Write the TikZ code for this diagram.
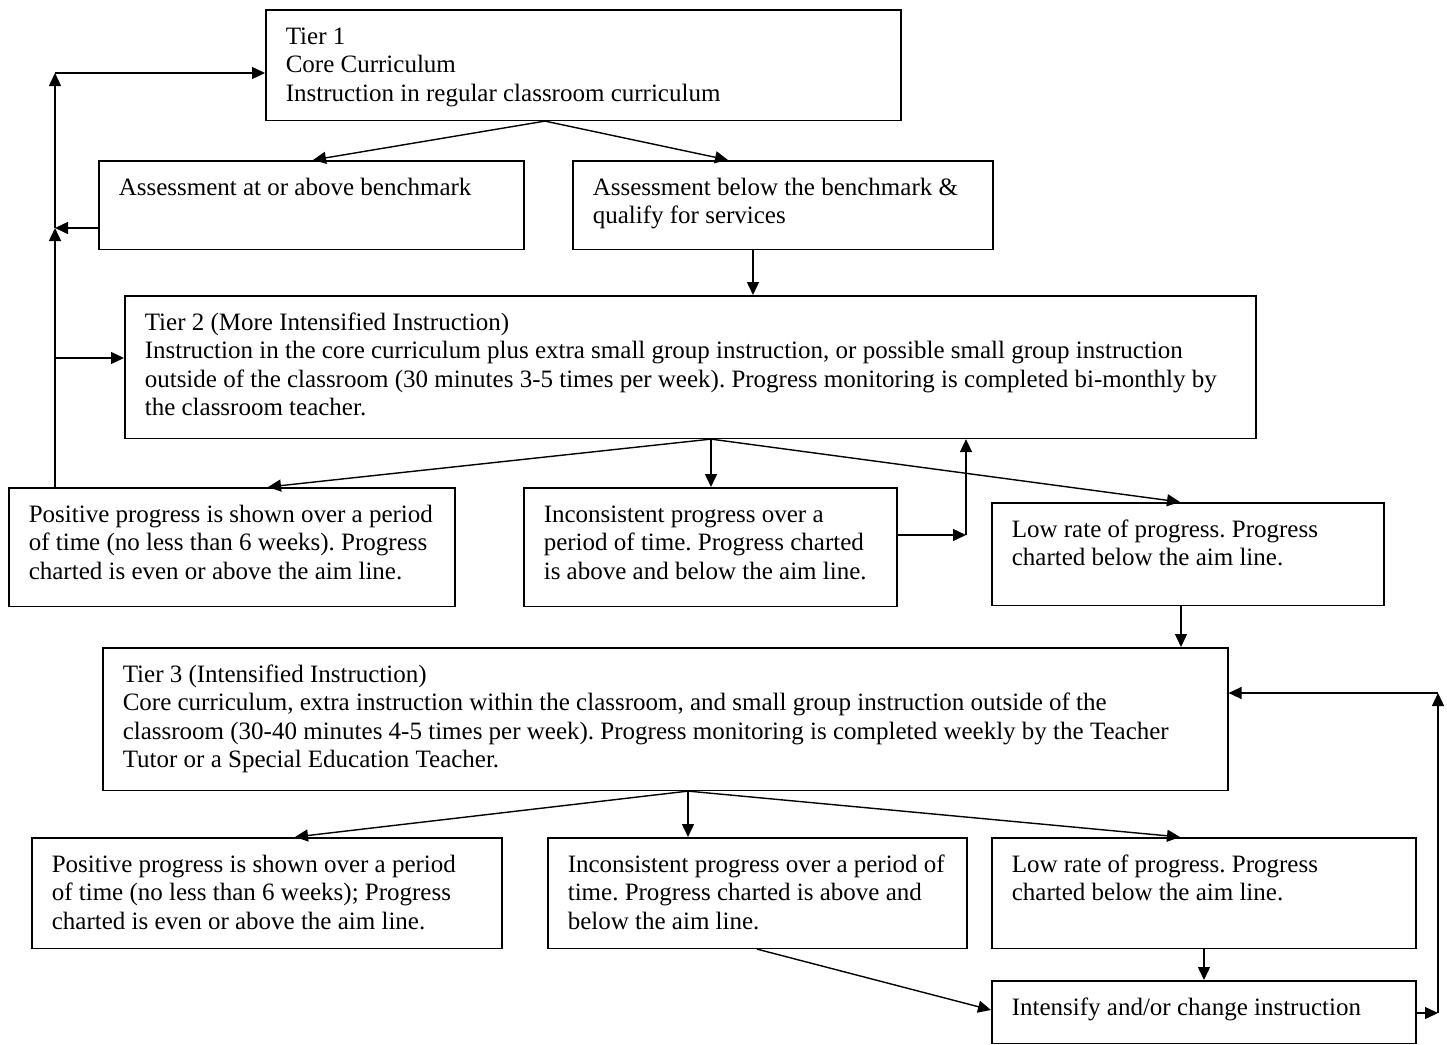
\documentclass[tikz,border=0pt]{standalone}
\usepackage{fontspec}
\setmainfont{Liberation Serif}
\usepackage{tikz}
\usetikzlibrary{arrows.meta, positioning, calc}
\frenchspacing

% lines of a box, never broken, flush left in a fixed width
\newcommand{\boxlines}[2]{\makebox[#1][l]{\begin{tabular}[t]{@{}l@{}}#2\end{tabular}}}

\tikzset{
    tierbox/.style={draw, line width=0.8pt, anchor=north west, inner xsep=10pt, inner ysep=0pt,
        text height=17.25pt, font=\fontsize{12.5pt}{14.25pt}\selectfont},
    flow/.style={-{Triangle[length=6.5pt, width=6pt]}, line width=0.7pt}
}

\begin{document}
\begin{tikzpicture}[x=0.5pt, y=-0.5pt]
    \useasboundingbox (0,0) rectangle (1447,1045);

    % ---------------- TIER 1 ----------------
    \node[tierbox, text depth=38pt] (tier1) at (265,9)
        {\boxlines{297.5pt}{Tier 1\\Core Curriculum\\Instruction in regular classroom curriculum}};
    \node[tierbox, text depth=27pt] (above1) at (98,160)
        {\boxlines{192.5pt}{Assessment at or above benchmark}};
    \node[tierbox, text depth=27pt] (below1) at (572,160)
        {\boxlines{190pt}{Assessment below the benchmark \&\\qualify for services}};

    % ---------------- TIER 2 ----------------
    \node[tierbox, text depth=54pt] (tier2) at (124,295)
        {\boxlines{545.5pt}{Tier 2 (More Intensified Instruction)\\
        Instruction in the core curriculum plus extra small group instruction, or possible small group instruction\\
        outside of the classroom (30 minutes 3-5 times per week). Progress monitoring is completed bi-monthly by\\
        the classroom teacher.}};
    \node[tierbox, text depth=42pt] (pos2) at (8,487)
        {\boxlines{203pt}{Positive progress is shown over a period\\of time (no less than 6 weeks). Progress\\charted is even or above the aim line.}};
    \node[tierbox, text depth=42pt] (inc2) at (523,487)
        {\boxlines{166.5pt}{Inconsistent progress over a\\period of time. Progress charted\\is above and below the aim line.}};
    \node[tierbox, text depth=34pt] (low2) at (991,502)
        {\boxlines{176pt}{Low rate of progress. Progress\\charted below the aim line.}};

    % ---------------- TIER 3 ----------------
    \node[tierbox, text depth=54pt] (tier3) at (102,647)
        {\boxlines{542.5pt}{Tier 3 (Intensified Instruction)\\
        Core curriculum, extra instruction within the classroom, and small group instruction outside of the\\
        classroom (30-40 minutes 4-5 times per week). Progress monitoring is completed weekly by the Teacher\\
        Tutor or a Special Education Teacher.}};
    \node[tierbox, text depth=38pt] (pos3) at (31,837)
        {\boxlines{215pt}{Positive progress is shown over a period\\of time (no less than 6 weeks); Progress\\charted is even or above the aim line.}};
    \node[tierbox, text depth=38pt] (inc3) at (547,837)
        {\boxlines{189.5pt}{Inconsistent progress over a period of\\time. Progress charted is above and\\below the aim line.}};
    \node[tierbox, text depth=38pt] (low3) at (991,837)
        {\boxlines{192pt}{Low rate of progress. Progress\\charted below the aim line.}};
    \node[tierbox, text depth=14pt] (intens) at (991,980)
        {\boxlines{192pt}{Intensify and/or change instruction}};

    % ---------------- ARROWS ----------------
    \draw[flow] (tier1.south -| 545,0) -- (above1.north -| 313,0);
    \draw[flow] (tier1.south -| 545,0) -- (below1.north -| 728,0);
    \draw[flow] (below1.south -| 753,0) -- (tier2.north -| 753,0);

    % left loop back to tier 1 / tier 2
    \coordinate (leftjoin) at (55,228);
    \coordinate (lefttop) at (55,73);
    \coordinate (leftmid) at (55,358);
    \draw[flow] (pos2.north -| leftjoin) -- (leftjoin);
    \draw[flow] (above1.west |- leftjoin) -- (leftjoin);
    \draw[flow] (leftjoin) -- (lefttop);
    \draw[flow] (lefttop) -- (lefttop -| tier1.west);
    \draw[flow] (leftmid) -- (leftmid -| tier2.west);

    \draw[flow] (tier2.south -| 711,0) -- (pos2.north -| 268,0);
    \draw[flow] (tier2.south -| 711,0) -- (inc2.north -| 711,0);
    \draw[flow] (tier2.south -| 711,0) -- (low2.north -| 1180,0);

    \coordinate (incturn) at (966,535);
    \draw[flow] (inc2.east |- incturn) -- (incturn);
    \draw[flow] (incturn) -- (incturn |- tier2.south);

    \draw[flow] (low2.south -| 1181,0) -- (tier3.north -| 1181,0);

    \draw[flow] (tier3.south -| 688,0) -- (pos3.north -| 295,0);
    \draw[flow] (tier3.south -| 688,0) -- (inc3.north -| 688,0);
    \draw[flow] (tier3.south -| 688,0) -- (low3.north -| 1180,0);

    \draw[flow] (inc3.south -| 757,0) -- (intens.west |- 0,1010);
    \draw[flow] (low3.south -| 1204,0) -- (intens.north -| 1204,0);

    % right loop back to tier 3
    \coordinate (rightlow) at (1438,1013);
    \coordinate (righttop) at (1438,693);
    \draw[flow] (intens.east |- rightlow) -- (rightlow);
    \draw[flow] (rightlow) -- (righttop);
    \draw[flow] (righttop) -- (righttop -| tier3.east);
\end{tikzpicture}
\end{document}
